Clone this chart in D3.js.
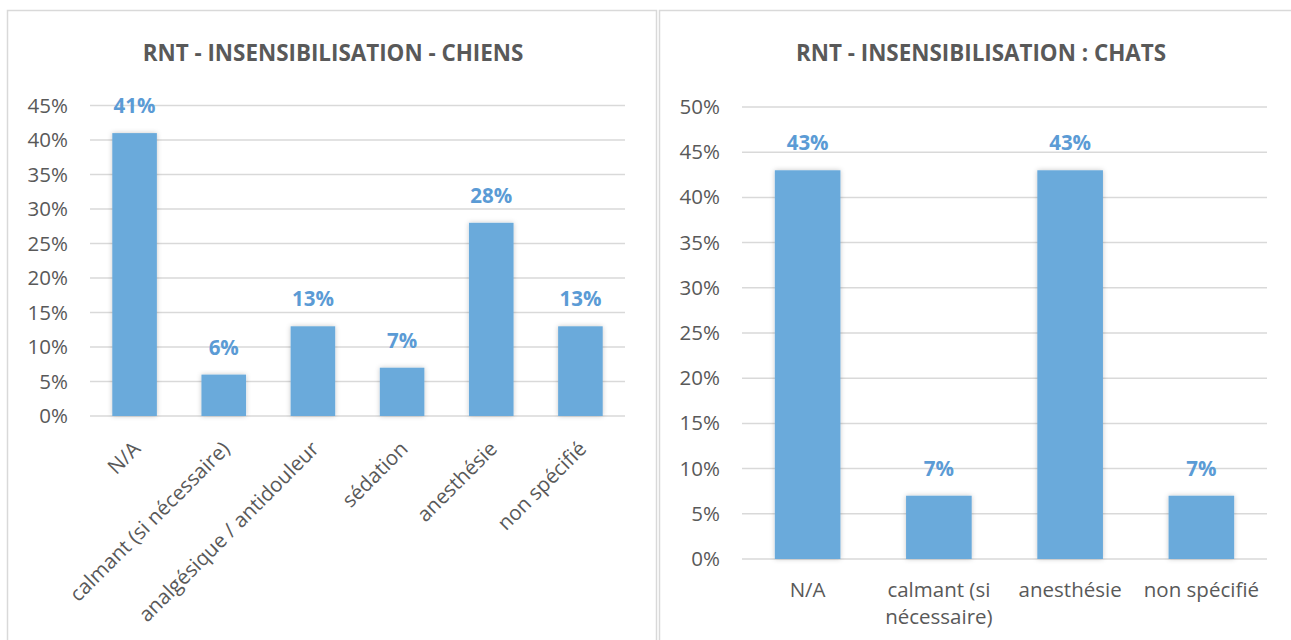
<!DOCTYPE html>
<html>
<head>
<meta charset="utf-8">
<script src="https://cdn.jsdelivr.net/npm/d3@7"></script>
<style>
  body { margin: 0; background: #fff; }
  svg { display: block; font-family: "Open Sans", sans-serif; }
</style>
</head>
<body>
<svg id="chart" width="1291" height="640"></svg>
<script>
// data
const dogCategories = ['N/A', 'calmant (si nécessaire)', 'analgésique / antidouleur', 'sédation', 'anesthésie', 'non spécifié'];
const dogValues = [41, 6, 13, 7, 28, 13];
const dogTicks = [0, 5, 10, 15, 20, 25, 30, 35, 40, 45];

const catCategories = ['N/A', 'calmant (si nécessaire)', 'anesthésie', 'non spécifié'];
const catValues = [43, 7, 43, 7];
const catTicks = [0, 5, 10, 15, 20, 25, 30, 35, 40, 45, 50];

const svg = d3.select('#chart');

const defs = svg.append('defs');
const shadow = defs.append('filter').attr('id', 'shadow')
  .attr('x', '-30%').attr('y', '-10%').attr('width', '160%').attr('height', '120%');
shadow.append('feDropShadow')
  .attr('dx', 0).attr('dy', 0).attr('stdDeviation', 2.5)
  .attr('flood-color', '#000').attr('flood-opacity', 0.22);

// panel frames
svg.append('rect').attr('x', 7.5).attr('y', 10.5).attr('width', 649).attr('height', 660)
  .attr('fill', '#fff').attr('stroke', '#d9d9d9').attr('stroke-width', 1.5);
svg.append('rect').attr('x', 659.5).attr('y', 10.5).attr('width', 660).attr('height', 660)
  .attr('fill', '#fff').attr('stroke', '#d9d9d9').attr('stroke-width', 1.5);

function wrap(sel, width) {
  sel.each(function() {
    const text = d3.select(this);
    const words = text.text().split(/\s+/);
    const x = text.attr('x');
    text.text(null);
    let line = [];
    let tspan = text.append('tspan').attr('x', x).attr('dy', 0);
    words.forEach(w => {
      line.push(w);
      tspan.text(line.join(' '));
      if (tspan.node().getComputedTextLength() > width && line.length > 1) {
        line.pop();
        tspan.text(line.join(' '));
        line = [w];
        tspan = text.append('tspan').attr('x', x).attr('dy', '1.3em').text(w);
      }
    });
  });
}

function drawChart(opt) {
  const g = svg.append('g');

  g.append('text')
    .attr('x', opt.titleX).attr('y', 61)
    .attr('text-anchor', 'middle')
    .attr('font-size', 22.4).attr('font-weight', 700)
    .attr('fill', '#595959')
    .text(opt.title);

  const x = d3.scaleBand().domain(opt.categories)
    .range([opt.left, opt.right]).paddingInner(0.5).paddingOuter(0.25);
  const y = d3.scaleLinear().domain([0, d3.max(opt.ticks)]).range([opt.bottom, opt.top]);

  // grid lines
  g.append('g').selectAll('line').data(opt.ticks).join('line')
    .attr('x1', opt.left).attr('x2', opt.right)
    .attr('y1', d => y(d)).attr('y2', d => y(d))
    .attr('stroke', '#d9d9d9').attr('stroke-width', 1.5);

  // y axis labels
  const yAxis = d3.axisLeft(y).tickValues(opt.ticks).tickSize(0).tickPadding(0)
    .tickFormat(d => d + '%');
  g.append('g').attr('transform', `translate(${opt.left - 22},0)`).call(yAxis)
    .call(a => a.select('.domain').remove())
    .selectAll('text')
    .attr('font-size', 20.5).attr('fill', '#595959')
    .attr('font-family', '"Open Sans", sans-serif');

  // bars
  g.append('g').selectAll('rect').data(opt.values).join('rect')
    .attr('x', (d, i) => x(opt.categories[i]))
    .attr('width', x.bandwidth())
    .attr('y', d => y(d))
    .attr('height', d => y(0) - y(d))
    .attr('fill', '#6aaadb')
    .attr('filter', 'url(#shadow)');

  // value labels
  g.append('g').selectAll('text').data(opt.values).join('text')
    .attr('x', (d, i) => x(opt.categories[i]) + x.bandwidth() / 2)
    .attr('y', d => y(d) - 20)
    .attr('text-anchor', 'middle')
    .attr('font-size', 20.5).attr('font-weight', 700)
    .attr('fill', '#5b9bd5')
    .text(d => d + '%');

  // category labels
  const labels = g.append('g').selectAll('text').data(opt.categories).join('text')
    .attr('font-size', 20.5).attr('fill', '#595959');

  if (opt.rotate) {
    labels
      .attr('text-anchor', 'end')
      .attr('transform', d => `translate(${x(d) + x.bandwidth() / 2 - 3},${opt.bottom + 24}) rotate(-45)`)
      .attr('dy', '0.7em')
      .text(d => d);
  } else {
    labels
      .attr('text-anchor', 'middle')
      .attr('x', d => x(d) + x.bandwidth() / 2)
      .attr('y', opt.bottom + 38)
      .text(d => d)
      .call(wrap, x.step() * 1.1);
  }
}

drawChart({
  title: 'RNT - INSENSIBILISATION - CHIENS',
  titleX: 333,
  categories: dogCategories, values: dogValues, ticks: dogTicks,
  left: 90, right: 625, top: 105.5, bottom: 416,
  rotate: true
});

drawChart({
  title: 'RNT - INSENSIBILISATION : CHATS',
  titleX: 981,
  categories: catCategories, values: catValues, ticks: catTicks,
  left: 742, right: 1267, top: 107, bottom: 559,
  rotate: false
});
</script>
</body>
</html>
